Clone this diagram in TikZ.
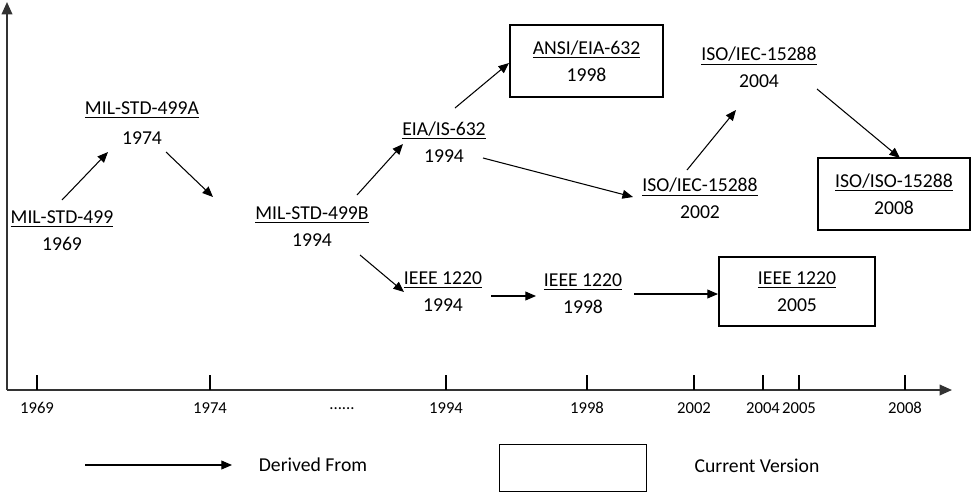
\documentclass[tikz,border=0pt]{standalone}
\usepackage{fontspec}
\setmainfont{Carlito}
\usepackage{tikz}
\usetikzlibrary{arrows.meta, positioning}

\begin{document}
\begin{tikzpicture}[
  x=0.02cm, y=-0.02cm,
  std/.style={align=center, inner sep=2pt,
    font=\fontsize{11.2}{13.2}\selectfont},
  current/.style={std, draw, line width=1pt,
    minimum width=86pt, minimum height=40pt},
  derive/.style={-{Triangle[length=6pt,width=5pt]}, line width=0.6pt},
  axis/.style={-{Triangle[length=7pt,width=6pt]}, line width=1pt,
    draw=black!80},
  tick/.style={font=\fontsize{9.5}{10}\selectfont, inner sep=1pt}
]
\useasboundingbox (0,0) rectangle (971,495);

% Axes
\coordinate (O) at (7,390);
\coordinate (ytop) at (7,2);
\coordinate (xend) at (952,390);
\draw[axis] (O) -- (ytop);
\draw[axis] (O) -- (xend);
\foreach \x/\yr in {37/1969, 210/1974, 446/1994, 587/1998,
    694/2002, 763/2004, 799/2005, 905/2008} {
  \draw[line width=0.6pt] (\x,375) -- (\x,390);
  \node[tick] (t\yr) at (\x,408) {\yr};
}
\node[tick] (dots) at (342,409) {......};

% Standards
\node[std] (m499) at (62,230.5) {\underline{MIL-STD-499}\\[2pt]1969};
\node[std] (m499a) at (142,123) {\underline{MIL-STD-499A}\\[4pt]1974};
\node[std] (m499b) at (312,226.5) {\underline{MIL-STD-499B}\\[2pt]1994};
\node[std] (eia) at (444,142) {\underline{EIA/IS-632}\\[2pt]1994};
\node[current, minimum width=86.7pt, minimum height=40.8pt] (ansi)
  at (586.5,61) {\underline{ANSI/EIA-632}\\[2pt]1998};
\node[std] (iso02) at (700,198.5) {\underline{ISO/IEC-15288}\\[2pt]2002};
\node[std] (iso04) at (759,67.5) {\underline{ISO/IEC-15288}\\[2pt]2004};
\node[current, minimum width=86.7pt, minimum height=40.8pt] (isoiso)
  at (894,194) {\underline{ISO/ISO-15288}\\[2pt]2008};
\node[std] (ieee94) at (443,291.5) {\underline{IEEE 1220}\\[2pt]1994};
\node[std] (ieee98) at (583,293.5) {\underline{IEEE 1220}\\[2pt]1998};
\node[current, minimum width=88.5pt, minimum height=39pt] (ieee05)
  at (797,291.5) {\underline{IEEE 1220}\\[2pt]2005};

% Derivations
\draw[derive] ([shift={(0,-30.5)}]m499.center) -- ([shift={(-34,29)}]m499a.center);
\draw[derive] ([shift={(24,29)}]m499a.center) -- ([shift={(-99,-29.5)}]m499b.center);
\draw[derive] ([shift={(45,-31.5)}]m499b.center) -- ([shift={(-41,2)}]eia.center);
\draw[derive] ([shift={(11,-34)}]eia.center) -- ([shift={(-77.5,2)}]ansi.center);
\draw[derive] ([shift={(39,16)}]eia.center) -- ([shift={(-67,-1.5)}]iso02.center);
\draw[derive] ([shift={(48,28.5)}]m499b.center) -- ([shift={(-39,0.5)}]ieee94.center);
\draw[derive] ([shift={(48,4.5)}]ieee94.center) -- ([shift={(-47,2.5)}]ieee98.center);
\draw[derive] ([shift={(51,0.5)}]ieee98.center) -- ([shift={(-79,2.5)}]ieee05.center);
\draw[derive] ([shift={(-13,-28.5)}]iso02.center) -- ([shift={(-23,42.5)}]iso04.center);
\draw[derive] ([shift={(58,21.5)}]iso04.center) -- ([shift={(6,-36)}]isoiso.center);

% Legend
\coordinate (lgA) at (85,465);
\coordinate (lgB) at (232,465);
\draw[derive] (lgA) -- (lgB);
\node[std] (lgder) at (313,465) {Derived From};
\node[draw, line width=0.6pt, minimum width=84pt, minimum height=27pt]
  (lgbox) at (573,468) {};
\node[std] (lgcur) at (757,466) {Current Version};
\end{tikzpicture}
\end{document}
